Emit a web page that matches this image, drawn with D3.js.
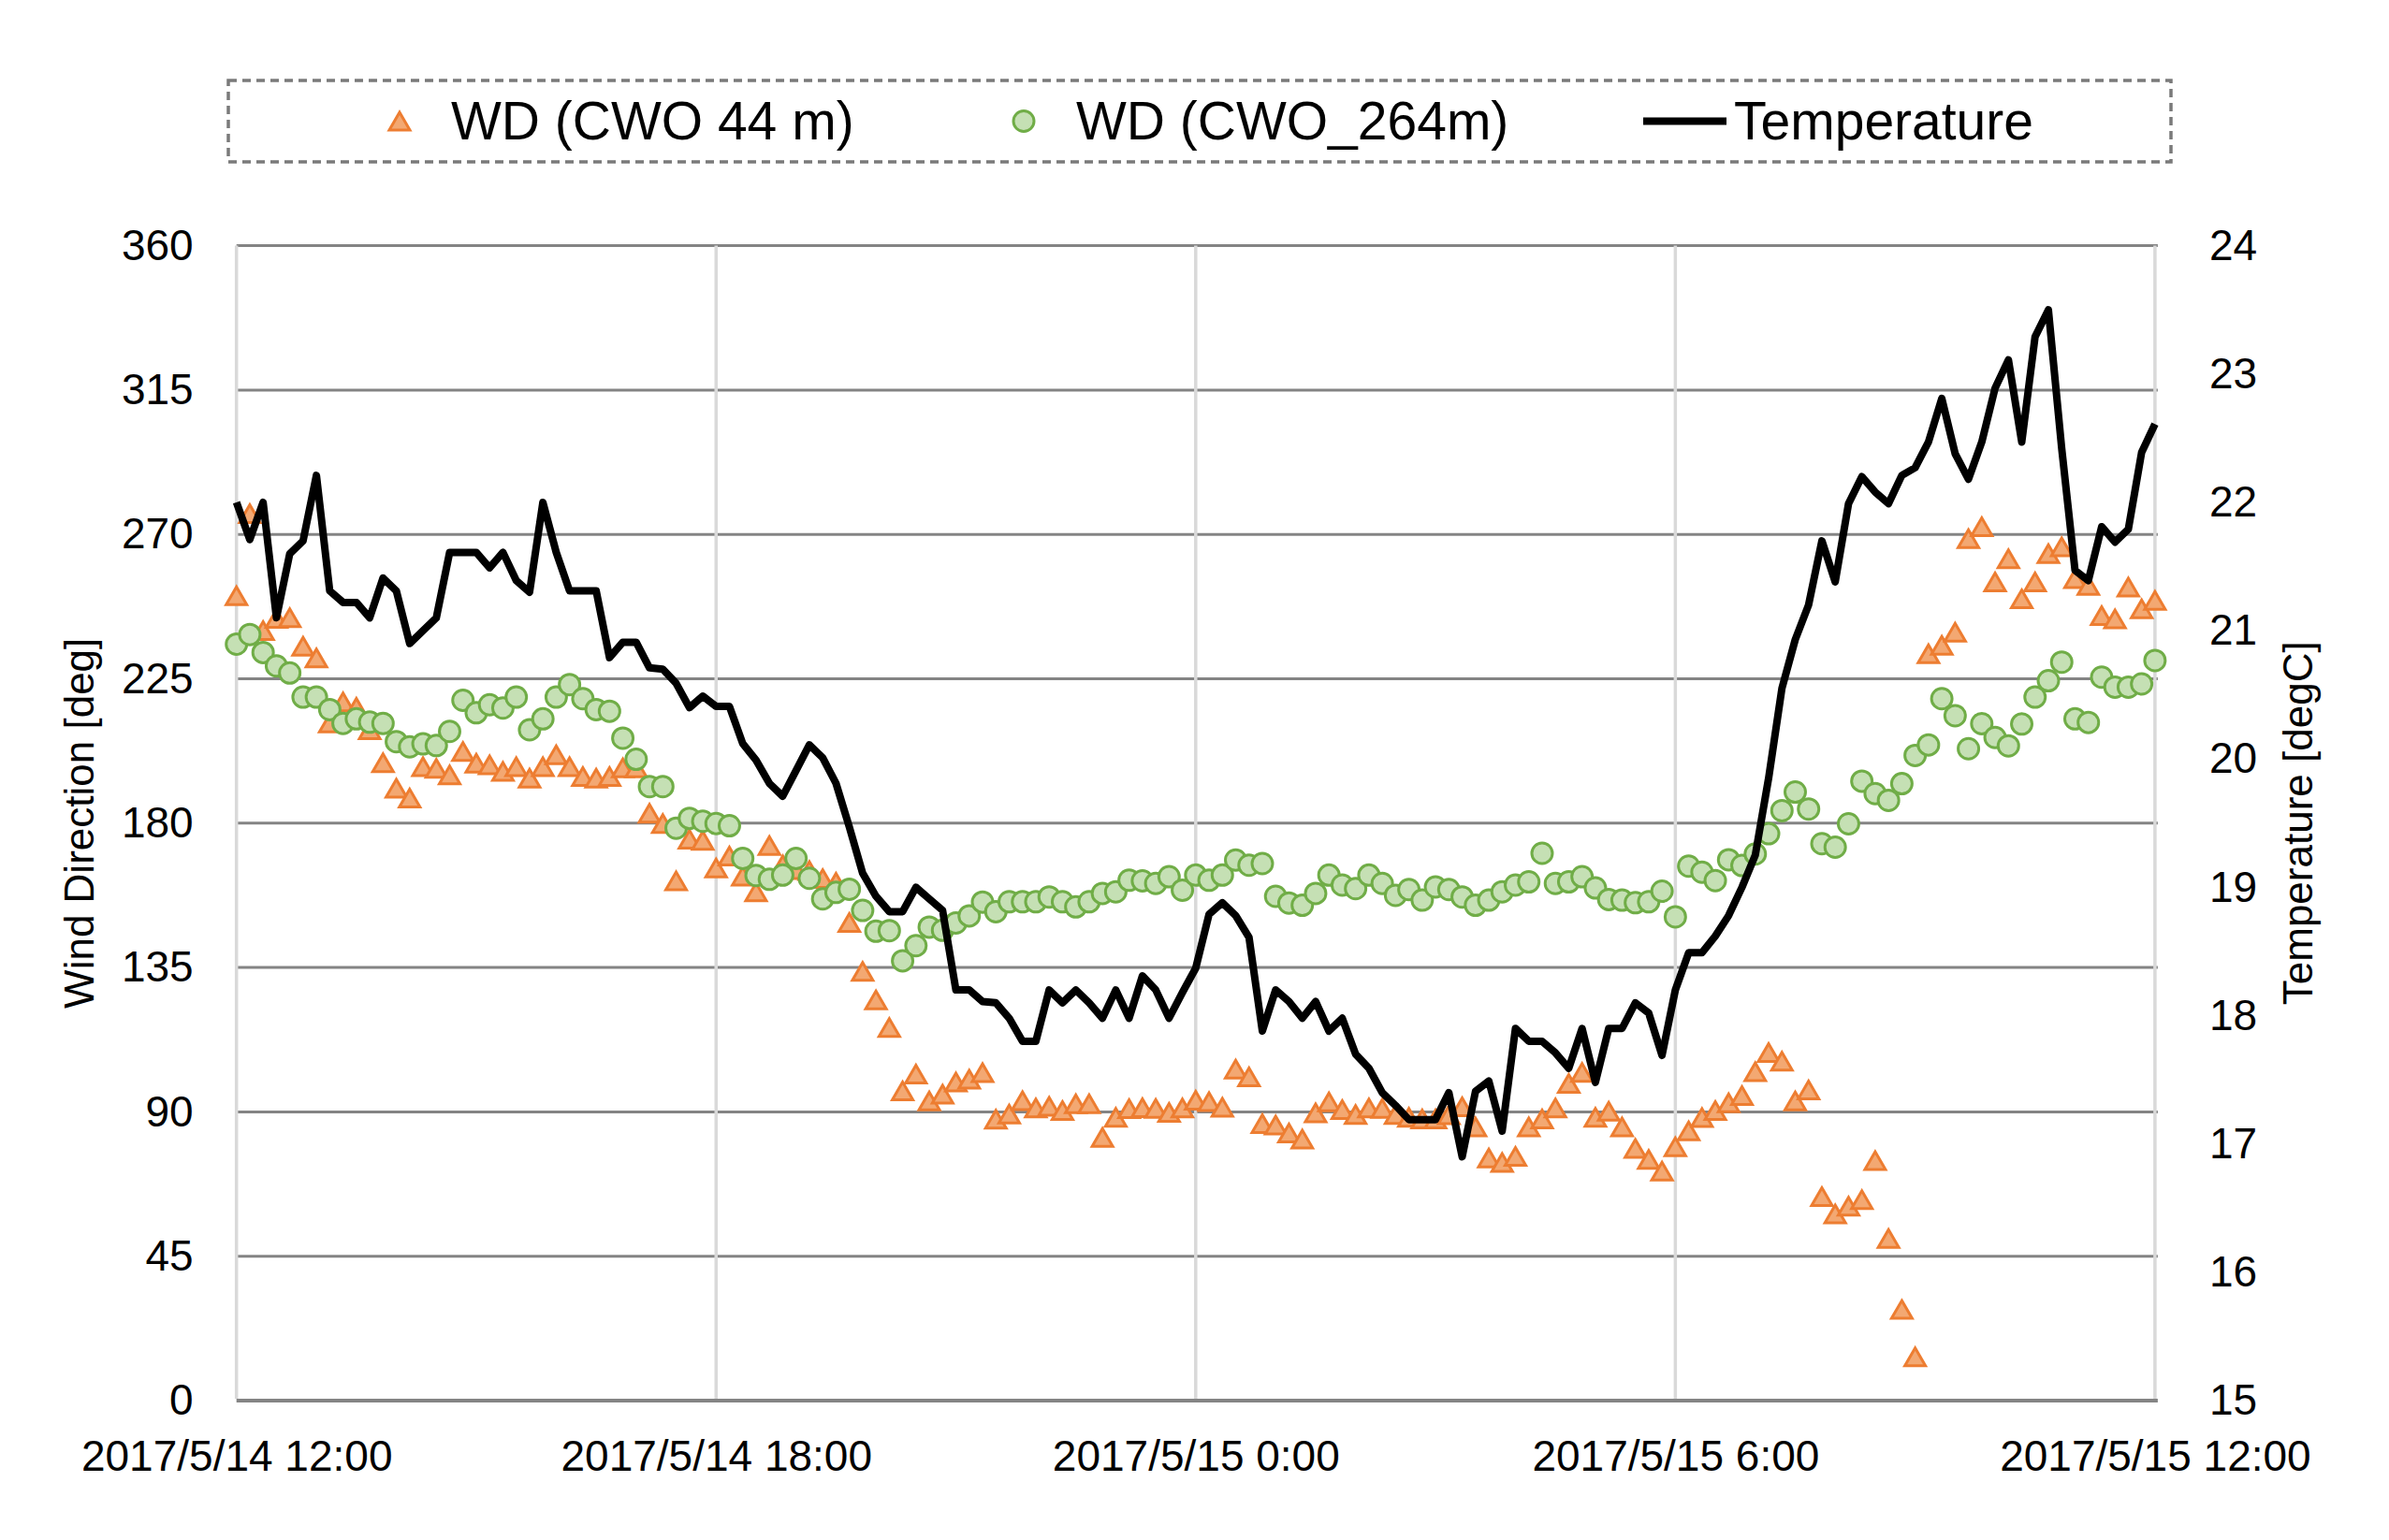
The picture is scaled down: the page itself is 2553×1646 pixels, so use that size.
<!DOCTYPE html>
<html>
<head>
<meta charset="utf-8">
<script src="https://cdn.jsdelivr.net/npm/d3@7"></script>
<style>
  body { margin: 0; background: #ffffff; }
  svg { display: block; }
  text { font-family: "Liberation Sans", Arial, sans-serif; fill: #000000; }
</style>
</head>
<body>
<svg id="chart" width="2553" height="1646"></svg>
<script>
// ---------------- DATA (10-minute samples, 2017/5/14 12:00 -> 2017/5/15 12:00) ----------------
const startTime = new Date(2017, 4, 14, 12, 0);
const endTime = new Date(2017, 4, 15, 12, 0);
const stepMinutes = 10;

const wd44 = [250.9,276.5,240.0,243.8,244.0,235.1,231.5,211.2,217.8,216.1,
  209.1,198.8,190.9,187.8,197.6,197.1,195.0,202.3,198.7,198.2,
  196.1,197.6,194.0,197.6,201.3,197.6,194.5,194.0,194.5,197.2,
  197.2,183.1,179.9,162.0,175.0,174.6,166.0,169.7,163.5,158.6,
  173.0,167.0,165.5,165.2,162.7,161.6,149.0,133.8,124.9,116.3,
  96.5,101.8,93.4,95.5,99.3,100.2,102.2,87.7,89.3,93.5,
  91.2,91.7,90.4,92.5,92.5,82.0,88.3,91.0,91.3,91.1,
  89.8,91.2,93.6,93.2,91.4,103.3,100.9,86.3,85.9,83.4,
  81.5,89.7,93.1,90.7,89.2,91.2,91.1,89.2,88.3,87.8,
  87.8,89.1,91.6,85.3,75.6,74.2,76.1,85.3,87.8,91.2,
  98.9,102.3,88.3,90.2,85.3,78.6,75.2,71.5,79.1,84.1,
  88.2,90.4,92.8,95.1,102.5,108.5,105.8,93.4,96.8,63.6,
  58.2,60.6,62.6,74.8,50.5,28.4,13.6,232.8,235.4,239.5,
  268.7,272.4,255.2,262.4,249.9,255.2,264.0,266.1,256.2,254.1,
  244.7,243.7,253.6,246.8,249.4];

const wd264 = [235.8,238.8,233.2,229.0,226.8,219.3,219.3,215.4,211.1,212.5,
  211.5,211.1,205.4,203.8,204.7,204.2,208.6,218.3,214.4,216.9,
  215.9,219.3,209.1,212.5,219.3,223.2,218.8,215.4,214.9,206.5,
  199.9,191.4,191.4,178.4,181.5,180.6,179.9,179.2,169.0,163.7,
  162.5,163.8,169.0,162.8,156.4,158.4,159.4,152.8,146.3,146.5,
  137.1,141.8,147.6,146.6,148.9,151.1,155.4,152.4,155.5,155.5,
  155.5,157.0,155.5,153.9,155.5,158.1,158.6,162.2,162.0,161.2,
  163.3,159.1,163.8,162.2,163.8,168.5,166.9,167.4,157.2,155.1,
  154.4,158.1,163.8,160.7,159.6,163.8,161.2,157.5,159.3,156.0,
  160.1,159.3,157.0,154.4,156.0,158.6,160.7,161.7,170.6,161.2,
  161.7,163.3,159.8,156.2,156.0,155.2,155.5,158.8,150.8,166.6,
  164.7,162.1,168.6,166.8,170.4,176.7,183.9,189.7,184.4,173.6,
  172.5,179.8,193.1,189.2,187.1,192.3,201.1,204.4,218.8,213.5,
  203.2,211.0,206.7,204.1,210.9,219.3,224.4,230.2,212.5,211.4,
  225.5,222.4,222.4,223.4,230.7];

const temperature = [22.00,21.71,22.00,21.10,21.60,21.70,22.21,21.31,21.22,21.22,
  21.10,21.41,21.31,20.90,21.00,21.10,21.61,21.61,21.61,21.49,
  21.61,21.39,21.30,22.00,21.61,21.31,21.31,21.31,20.79,20.91,
  20.91,20.71,20.70,20.59,20.40,20.49,20.41,20.41,20.12,19.99,
  19.81,19.71,19.91,20.11,20.01,19.81,19.47,19.11,18.93,18.81,
  18.81,19.00,18.91,18.82,18.20,18.20,18.11,18.10,17.98,17.80,
  17.80,18.20,18.10,18.20,18.10,17.98,18.20,17.98,18.31,18.20,
  17.98,18.18,18.37,18.79,18.88,18.78,18.61,17.88,18.20,18.11,
  17.98,18.11,17.88,17.98,17.70,17.59,17.40,17.30,17.19,17.19,
  17.19,17.40,16.90,17.41,17.49,17.10,17.90,17.80,17.80,17.71,
  17.59,17.90,17.48,17.90,17.90,18.10,18.02,17.69,18.20,18.49,
  18.49,18.62,18.78,19.00,19.25,19.85,20.55,20.93,21.20,21.70,
  21.38,21.99,22.20,22.08,21.99,22.21,22.27,22.47,22.81,22.38,
  22.18,22.47,22.89,23.11,22.47,23.29,23.50,22.42,21.47,21.39,
  21.81,21.69,21.79,22.39,22.61];

const leftTicks = [0, 45, 90, 135, 180, 225, 270, 315, 360];
const rightTicks = [15, 16, 17, 18, 19, 20, 21, 22, 23, 24];
const xTickTimes = [
  new Date(2017, 4, 14, 12, 0),
  new Date(2017, 4, 14, 18, 0),
  new Date(2017, 4, 15, 0, 0),
  new Date(2017, 4, 15, 6, 0),
  new Date(2017, 4, 15, 12, 0)
];
const seriesNames = ["WD (CWO 44 m)", "WD (CWO_264m)", "Temperature"];
const leftTitle = "Wind Direction [deg]";
const rightTitle = "Temperature [degC]";

// ---------------- LAYOUT ----------------
const plot = { left: 252.7, right: 2302.9, top: 262.6, bottom: 1497 };
const colors = {
  triStroke: "#ED7D31", triFill: "#F3A872",
  cirStroke: "#70AD47", cirFill: "#C5E0B4",
  line: "#000000", hGrid: "#848484", vGrid: "#D9D9D9", legend: "#7A7A7A"
};

const svg = d3.select("#chart");

const times = wd44.map((_, i) => d3.timeMinute.offset(startTime, i * stepMinutes));
const x = d3.scaleTime().domain([startTime, endTime]).range([plot.left, plot.right]);
const yL = d3.scaleLinear().domain([0, 360]).range([plot.bottom, plot.top]);
const yR = d3.scaleLinear().domain([15, 24]).range([plot.bottom, plot.top]);

// horizontal gridlines
svg.append("g").selectAll("line").data(leftTicks).join("line")
  .attr("x1", plot.left).attr("x2", plot.right + 3)
  .attr("y1", d => yL(d)).attr("y2", d => yL(d))
  .attr("stroke", colors.hGrid).attr("stroke-width", d => d === 0 ? 4 : 3);

// vertical gridlines
svg.append("g").selectAll("line").data(xTickTimes).join("line")
  .attr("x1", d => x(d)).attr("x2", d => x(d))
  .attr("y1", plot.top).attr("y2", plot.bottom - 2)
  .attr("stroke", colors.vGrid).attr("stroke-width", 3.5);

// triangle symbol (bbox-centred)
const triW = 22, triH = 19;
const triPath = `M0,${-triH/2}L${triW/2},${triH/2}L${-triW/2},${triH/2}Z`;

// WD 44 m triangles
svg.append("g").selectAll("path").data(wd44).join("path")
  .attr("d", triPath)
  .attr("transform", (d, i) => `translate(${x(times[i])},${yL(d)})`)
  .attr("fill", colors.triFill).attr("stroke", colors.triStroke)
  .attr("stroke-width", 3).attr("stroke-linejoin", "miter");

// WD 264 m circles
svg.append("g").selectAll("circle").data(wd264).join("circle")
  .attr("cx", (d, i) => x(times[i])).attr("cy", d => yL(d))
  .attr("r", 11)
  .attr("fill", colors.cirFill).attr("stroke", colors.cirStroke).attr("stroke-width", 3);

// temperature line
const line = d3.line().x((d, i) => x(times[i])).y(d => yR(d));
svg.append("path").datum(temperature)
  .attr("d", line).attr("fill", "none")
  .attr("stroke", colors.line).attr("stroke-width", 8)
  .attr("stroke-linejoin", "round");

// axes (labels only)
const fs = 46;
const gL = svg.append("g").attr("transform", `translate(${plot.left},0)`)
  .call(d3.axisLeft(yL).tickValues(leftTicks).tickSize(0).tickPadding(46));
const gR = svg.append("g").attr("transform", `translate(${plot.right},0)`)
  .call(d3.axisRight(yR).tickValues(rightTicks).tickSize(0).tickPadding(58).tickFormat(d3.format("d")));
const fmt = d => `${d.getFullYear()}/${d.getMonth() + 1}/${d.getDate()} ${d.getHours()}:${String(d.getMinutes()).padStart(2, "0")}`;
const gB = svg.append("g").attr("transform", `translate(0,${plot.bottom})`)
  .call(d3.axisBottom(x).tickValues(xTickTimes).tickSize(0).tickPadding(42).tickFormat(fmt));
[gL, gR, gB].forEach(g => {
  g.select(".domain").remove();
  g.selectAll("text")
    .style("font-family", '"Liberation Sans", Arial, sans-serif')
    .attr("font-size", fs).attr("fill", "#000");
});

// axis titles
svg.append("text")
  .attr("transform", `translate(100,${(plot.top + plot.bottom) / 2}) rotate(-90)`)
  .attr("text-anchor", "middle").attr("font-size", 44).text(leftTitle);
svg.append("text")
  .attr("transform", `translate(2471,${(plot.top + plot.bottom) / 2}) rotate(-90)`)
  .attr("text-anchor", "middle").attr("font-size", 44).text(rightTitle);

// legend
const lg = svg.append("g");
lg.append("rect").attr("x", 244).attr("y", 86).attr("width", 2076).attr("height", 87)
  .attr("fill", "none").attr("stroke", colors.legend).attr("stroke-width", 3.5)
  .attr("stroke-dasharray", "9,6");
const legY = 129.5, legBase = 149;
lg.append("path").attr("d", triPath).attr("transform", `translate(427,${legY})`)
  .attr("fill", colors.triFill).attr("stroke", colors.triStroke).attr("stroke-width", 3);
lg.append("text").attr("x", 482).attr("y", legBase).attr("font-size", 57).text(seriesNames[0]);
lg.append("circle").attr("cx", 1094).attr("cy", legY).attr("r", 11)
  .attr("fill", colors.cirFill).attr("stroke", colors.cirStroke).attr("stroke-width", 3);
lg.append("text").attr("x", 1150).attr("y", legBase).attr("font-size", 57).text(seriesNames[1]);
lg.append("line").attr("x1", 1756).attr("x2", 1845).attr("y1", legY).attr("y2", legY)
  .attr("stroke", colors.line).attr("stroke-width", 8);
lg.append("text").attr("x", 1853).attr("y", legBase).attr("font-size", 57).text(seriesNames[2]);
</script>
</body>
</html>
